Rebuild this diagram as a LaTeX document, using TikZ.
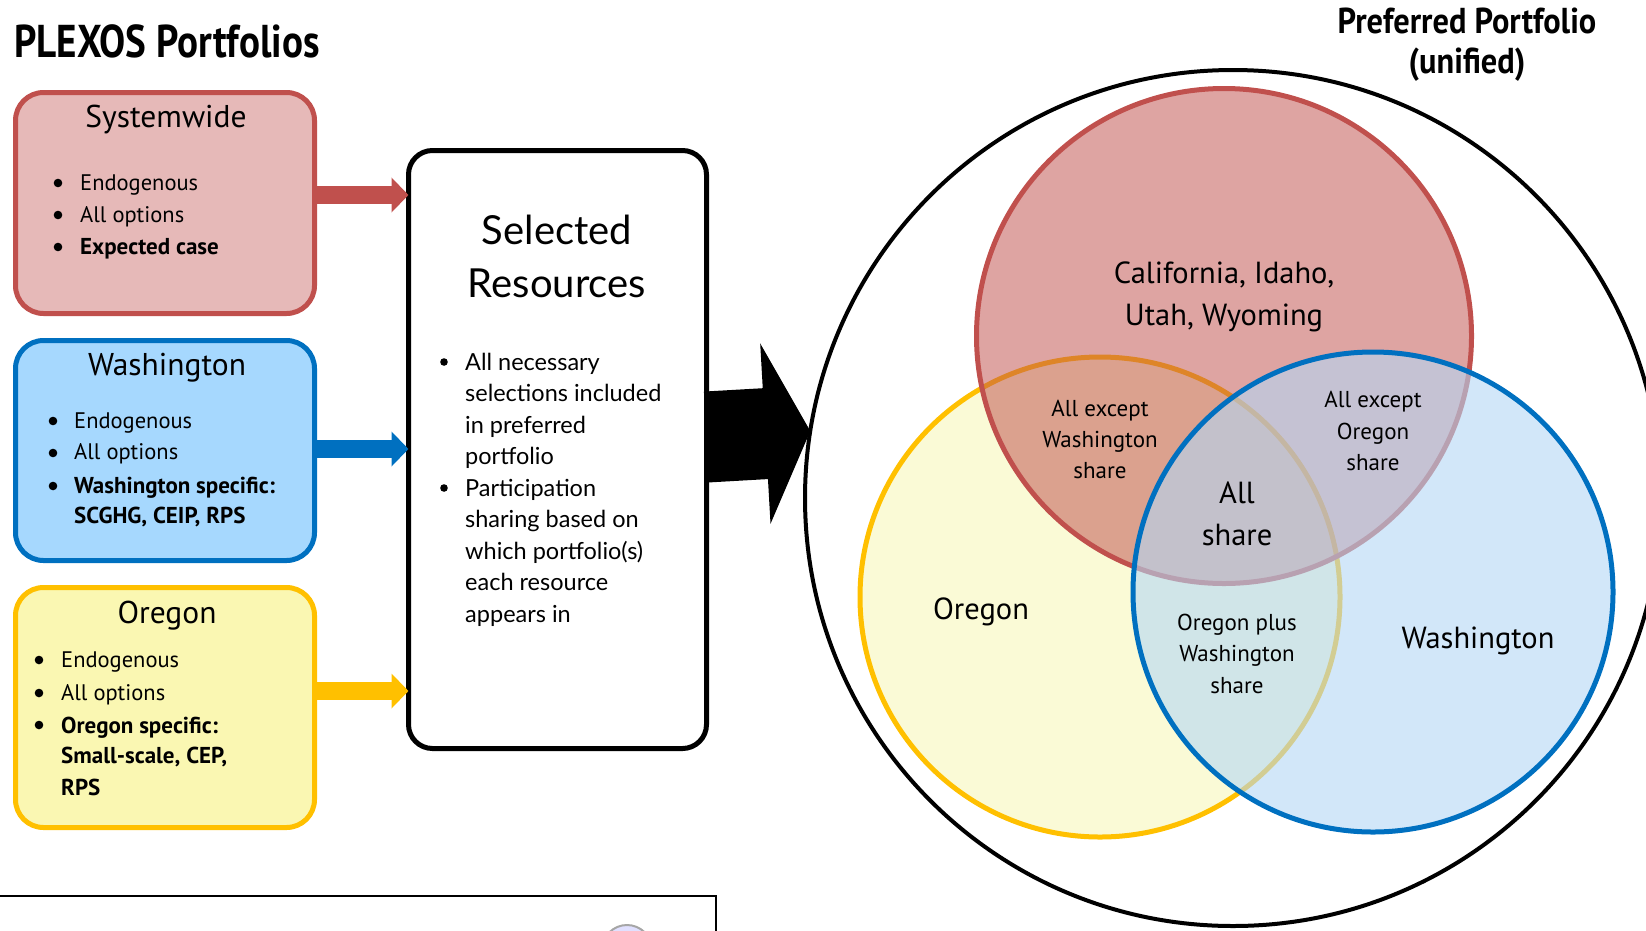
\documentclass[tikz,border=0pt]{standalone}
\usepackage{fontspec}
\setmainfont{PT Sans}
\newfontfamily\condfont[FakeStretch=0.85]{PT Sans}
\newfontfamily\headfontb[FakeStretch=0.9]{PT Sans}
\newfontfamily\selfont{Lato}
\usetikzlibrary{arrows.meta}
\definecolor{sysred}{HTML}{C0504D}
\definecolor{sysfill}{HTML}{E6B9B8}
\definecolor{wablue}{HTML}{0070C0}
\definecolor{wafill}{HTML}{A6D8FE}
\definecolor{oryel}{HTML}{FFC000}
\definecolor{orfill}{HTML}{FAF7B2}
\definecolor{vennblue}{RGB}{180,215,245}
\definecolor{vennyel}{RGB}{250,250,214}
\newcommand\mydot[2]{\fill (#1,#2) circle (4.3pt);}
\newcommand\seldot[2]{\fill (#1,#2) circle (3.8pt);}
\begin{document}
\begin{tikzpicture}[x=1pt,y=-1pt,
  pbox/.style={draw, rounded corners=28pt, line width=5pt, inner sep=0pt, outer sep=0pt},
  ttl/.style={anchor=base, font=\fontsize{31.5}{36}\selectfont},
  itm/.style={anchor=base west, inner sep=0pt, font=\fontsize{22.5}{27}\selectfont},
  itmb/.style={anchor=base west, inner sep=0pt, font=\fontsize{23}{27}\selectfont\bfseries},
  selitm/.style={anchor=base west, inner sep=0pt, font=\selfont\fontsize{23.5}{28}\selectfont},
  selhead/.style={anchor=base, inner sep=0pt, font=\selfont\fontsize{40}{48}\selectfont},
  vlab/.style={anchor=base, inner sep=0pt, font=\fontsize{30.5}{36}\selectfont},
  vsmall/.style={anchor=base, inner sep=0pt, font=\fontsize{23}{28}\selectfont},
  head/.style={anchor=base, inner sep=0pt, font=\headfontb\bfseries\fontsize{36}{42}\selectfont},
  blockarrow/.style={line width=18pt, -{Triangle[length=17pt,width=34pt]}}
]
\useasboundingbox (0,0) rectangle (1646,930);

% title
\node[anchor=base west, inner sep=0pt, font=\condfont\bfseries\fontsize{46}{54}\selectfont] (title) at (14,57) {PLEXOS Portfolios};

% portfolio boxes
\node[pbox, draw=sysred, fill=sysfill, minimum width=299pt, minimum height=221pt] (sys) at (165,203) {};
\node[pbox, draw=wablue, fill=wafill, minimum width=299pt, minimum height=220pt] (wa) at (165,450.5) {};
\node[pbox, draw=oryel, fill=orfill, minimum width=299pt, minimum height=240pt] (or) at (165,707.5) {};
\node[pbox, rounded corners=24pt, draw=black, fill=white, minimum width=298pt, minimum height=598pt] (sel) at (557.5,449.5) {};

% systemwide text
\node[ttl] (systitle) at (166,127) {Systemwide};
\mydot{58}{183}\node[itm] (s1) at (80,190) {Endogenous};
\mydot{58}{215}\node[itm] (s2) at (80,222) {All options};
\mydot{58}{247}\node[itmb] (s3) at (80,254) {Expected case};

% washington text
\node[ttl] (watitle) at (167,375) {Washington};
\mydot{53}{421}\node[itm] (w1) at (74,428) {Endogenous};
\mydot{53}{453}\node[itm] (w2) at (74,459) {All options};
\mydot{53}{486}\node[itmb] (w3) at (74,493) {Washington specific:};
\node[itmb] (w4) at (74,523) {SCGHG, CEIP, RPS};

% oregon text
\node[ttl] (ortitle) at (167,623) {Oregon};
\mydot{39}{660}\node[itm] (o1) at (61,667) {Endogenous};
\mydot{39}{693}\node[itm] (o2) at (61,700) {All options};
\mydot{39}{725}\node[itmb] (o3) at (61,733) {Oregon specific:};
\node[itmb] (o4) at (61,763) {Small-scale, CEP,};
\node[itmb] (o5) at (61,795) {RPS};

% selected resources text
\node[selhead] (selh1) at (557,244) {Selected};
\node[selhead] (selh2) at (557,297) {Resources};
\seldot{444}{362}\node[selitm] (r1) at (465,370) {All necessary};
\node[selitm] (r2) at (465,401) {selections included};
\node[selitm] (r3) at (465,433) {in preferred};
\node[selitm] (r4) at (465,464) {portfolio};
\seldot{444}{488}\node[selitm] (r5) at (465,496) {Participation};
\node[selitm] (r6) at (465,527) {sharing based on};
\node[selitm] (r7) at (465,559) {which portfolio(s)};
\node[selitm] (r8) at (465,590) {each resource};
\node[selitm] (r9) at (465,622) {appears in};

% colored block arrows
\draw[sysred, blockarrow] (sys.east |- 0,195) -- (sel.west |- 0,195);
\draw[wablue, blockarrow] (wa.east |- 0,449) -- (sel.west |- 0,449);
\draw[oryel, blockarrow] (or.east |- 0,691) -- (sel.west |- 0,691);

% big circle
\node[circle, draw, line width=4pt, minimum size=856pt, inner sep=0pt, outer sep=0pt] (big) at (1233,498) {};

% big black arrow
\draw[line width=91pt, -{Triangle[length=45pt,width=179pt]}] (sel.east |- 0,437) -- (big.171.8);

% Venn circles
\draw[oryel, line width=5pt, fill=vennyel] (1100,597) circle (240pt);
\draw[sysred, line width=5pt, fill=sysred, fill opacity=0.52] (1224,336) circle (247.5pt);
\draw[wablue, line width=5pt, fill=vennblue, fill opacity=0.6] (1373,592) circle (240pt);

% Venn labels
\node[vlab] (ca1) at (1224,283) {California, Idaho,};
\node[vlab] (ca2) at (1224,325) {Utah, Wyoming};
\node[vsmall] (aw1) at (1100,416) {All except};
\node[vsmall] (aw2) at (1100,447) {Washington};
\node[vsmall] (aw3) at (1100,478) {share};
\node[vsmall] (ao1) at (1373,407) {All except};
\node[vsmall] (ao2) at (1373,439) {Oregon};
\node[vsmall] (ao3) at (1373,470) {share};
\node[vlab] (all1) at (1237,503) {All};
\node[vlab] (all2) at (1237,545) {share};
\node[vlab] (orl) at (981,619) {Oregon};
\node[vlab] (wal) at (1478,648) {Washington};
\node[vsmall] (ow1) at (1237,630) {Oregon plus};
\node[vsmall] (ow2) at (1237,661) {Washington};
\node[vsmall] (ow3) at (1237,693) {share};

% heading of the Venn
\node[head] (pp1) at (1467,33) {Preferred Portfolio};
\node[head] (pp2) at (1467,73) {(unified)};

% partial frame at the bottom
\coordinate (fa) at (0,896);
\coordinate (fb) at (716,896);
\coordinate (fc) at (716,940);
\draw[line width=2.5pt] (fa) -- (fb) -- (fc);
\draw[gray!70, line width=2pt, fill=blue!12] (627,950) circle (25pt);
\end{tikzpicture}
\end{document}
